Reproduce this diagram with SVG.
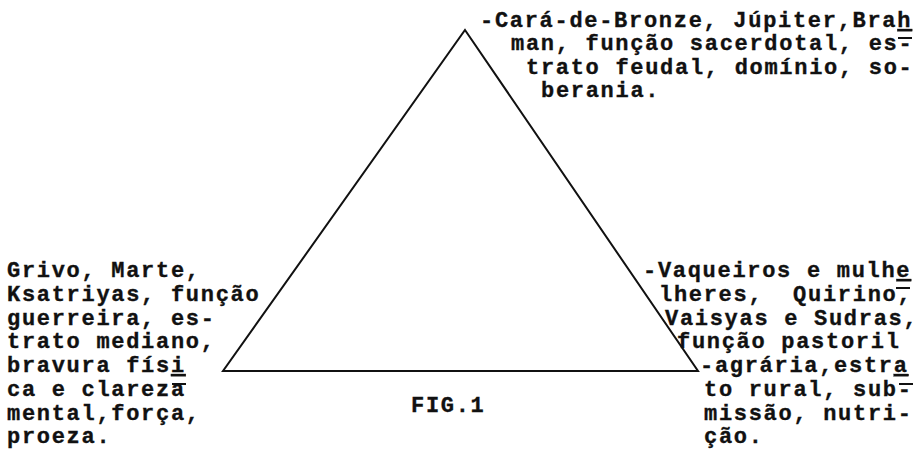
<svg xmlns="http://www.w3.org/2000/svg" width="924" height="452" viewBox="0 0 924 452">
<style>
  .t { font-family: "Liberation Mono", "DejaVu Sans Mono", monospace; font-weight: bold; font-size: 22px; letter-spacing: 1.7px; fill: #111; stroke: #111; stroke-width: 0.35; white-space: pre; }
  .u { text-decoration: underline; }
  .edge { fill: none; stroke: #111; stroke-width: 2; stroke-linejoin: miter; }
  .bar { stroke: #111; stroke-width: 2; }
</style>
<rect width="924" height="452" fill="#fff"/>
<g id="connectors">
  <polygon class="edge" points="465,30 698,371 223,371"/>
</g>
<g id="node-top">
  <text class="t" x="480" y="27">-Cará-de-Bronze, Júpiter,Bra<tspan class="u">h</tspan></text>
  <text class="t" x="511" y="50">man, função sacerdotal, es-</text>
  <text class="t" x="526" y="74">trato feudal, domínio, so-</text>
  <text class="t" x="541" y="97">berania.</text>
  <line class="bar" x1="898" y1="38" x2="912" y2="38"/>
</g>
<g id="node-left">
  <text class="t" x="7" y="277">Grivo, Marte,</text>
  <text class="t" x="7" y="301">Ksatriyas, função</text>
  <text class="t" x="7" y="325">guerreira, es-</text>
  <text class="t" x="7" y="348">trato mediano,</text>
  <text class="t" x="7" y="372">bravura fís<tspan class="u">i</tspan></text>
  <text class="t" x="7" y="396">ca e clareza</text>
  <text class="t" x="7" y="420">mental,força,</text>
  <text class="t" x="7" y="443">proeza.</text>
  <line class="bar" x1="172" y1="384" x2="186" y2="384"/>
</g>
<g id="node-right">
  <text class="t" x="643" y="277">-Vaqueiros e mulh<tspan class="u">e</tspan></text>
  <text class="t" x="659" y="301">lheres,  Quirino,</text>
  <text class="t" x="665" y="325">Vaisyas e Sudras,</text>
  <text class="t" x="677" y="348">função pastoril</text>
  <text class="t" x="700" y="372">-agrária,estr<tspan class="u">a</tspan></text>
  <text class="t" x="704" y="396">to rural, sub-</text>
  <text class="t" x="704" y="420">missão, nutri-</text>
  <text class="t" x="704" y="443">ção.</text>
  <line class="bar" x1="896" y1="288" x2="910" y2="288"/>
  <line class="bar" x1="899" y1="384" x2="913" y2="384"/>
</g>
<g id="caption">
  <text class="t" x="411" y="412">FIG.1</text>
</g>
</svg>
